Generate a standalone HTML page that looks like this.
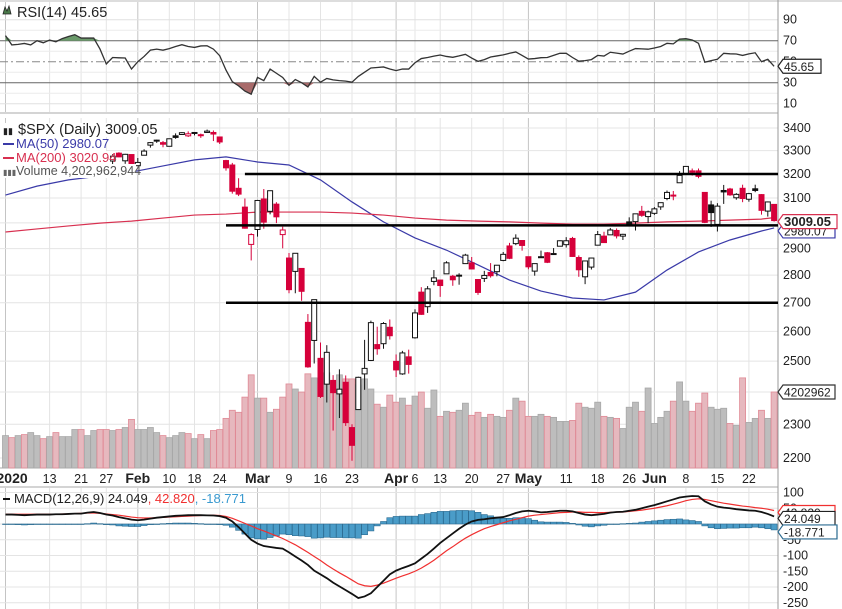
<!DOCTYPE html>
<html><head><meta charset="utf-8"><style>
html,body{margin:0;padding:0;background:#fff;}
svg{display:block;font-family:"Liberation Sans",sans-serif;}
</style></head><body>
<svg id="chart" width="842" height="609" viewBox="0 0 842 609" xmlns="http://www.w3.org/2000/svg">
<g id="grid"></g>
<g id="rsi"></g>
<g id="vol"></g>
<g id="ma"></g>
<g id="candles"></g>
<g id="lines"></g>
<g id="macd"></g>
<g id="axes"></g>
<g id="legend"></g>
</svg>
<script>
const opens=[3245,3226,3218,3241,3238,3266,3281,3271,3285,3283,3303,3324,3321,3330,3316,3333,3248,3255,3289,3256,3283,
3235,3280,3324,3344,3335,3319,3365,3371,3365,3378,3370,3380,3380,3360,3257,3238,3140,3063,2916,
2974,3096,3046,3075,2954,2864,2814,2825,2631,2569,2509,2425,2437,2394,2431,2290,2345,2458,2502,2555,2558,2614,
2499,2458,2514,2578,2738,2686,2777,2782,2805,2796,2799,2843,2846,2784,2788,2810,2813,2855,2910,2919,2931,
2869,2815,2869,2884,2879,2909,2915,2939,2866,2794,2830,2913,2948,2953,2970,2948,3004,3005,3046,3025,
3038,3064,3098,3111,3163,3199,3213,3213,3123,3072,2994,3131,3137,3101,3140,3095,3138,3114,3047,3074];
const highs=[3258,3246,3247,3245,3267,3276,3283,3288,3294,3298,3317,3330,3329,3337,3326,3334,3259,3285,3293,3286,3283,
3268,3306,3337,3348,3342,3353,3376,3381,3385,3381,3375,3393,3389,3361,3260,3247,3182,3098,2959,
3091,3137,3131,3083,2985,2883,2883,2825,2660,2711,2562,2553,2454,2473,2453,2300,2449,2571,2637,2616,2632,2641,
2522,2534,2538,2677,2756,2760,2819,2783,2852,2801,2807,2880,2868,2786,2816,2845,2837,2887,2922,2955,2931,
2869,2843,2892,2887,2902,2932,2944,2945,2874,2852,2865,2968,2965,2980,2978,2957,3022,3036,3068,3049,
3063,3081,3131,3129,3212,3233,3223,3223,3123,3089,3079,3154,3142,3120,3155,3121,3155,3116,3086,3074];
const lows=[3235,3222,3215,3233,3236,3263,3260,3268,3277,3280,3302,3318,3316,3320,3302,3281,3234,3242,3271,3243,3214,
3235,3280,3313,3334,3315,3318,3352,3369,3360,3367,3356,3378,3342,3329,3214,3118,3108,2977,2855,
2946,2977,3034,2999,2901,2734,2734,2707,2478,2492,2381,2367,2281,2319,2295,2192,2345,2407,2500,2521,2541,2572,
2448,2455,2459,2575,2657,2664,2763,2721,2806,2761,2765,2842,2821,2728,2775,2791,2796,2852,2860,2913,2892,
2822,2798,2866,2845,2876,2909,2904,2869,2794,2767,2821,2913,2922,2953,2939,2933,2988,2970,3024,2999,
3032,3052,3091,3091,3163,3197,3193,3182,2999,2984,2966,3076,3109,3093,3083,3085,3124,3033,3025,3005];
const closes=[3258,3235,3246,3237,3253,3275,3265,3288,3283,3289,3317,3330,3321,3322,3326,3295,3244,3276,3273,3284,3226,
3249,3298,3335,3346,3328,3352,3358,3379,3374,3380,3370,3386,3373,3338,3226,3128,3116,2979,2954,
3090,3003,3130,3024,2972,2747,2882,2741,2481,2711,2386,2529,2398,2409,2305,2237,2447,2476,2630,2541,2627,2585,
2471,2527,2489,2664,2659,2750,2790,2762,2846,2783,2800,2875,2823,2737,2799,2798,2837,2878,2863,2940,2912,
2831,2843,2868,2848,2881,2930,2930,2870,2820,2853,2864,2954,2923,2972,2949,2955,2992,3036,3030,3044,
3056,3081,3123,3112,3194,3232,3207,3190,3002,3041,3067,3125,3113,3115,3098,3118,3131,3050,3084,3009.05];
const volumes=[1792,1680,1792,1848,1960,1792,1624,1736,1960,1736,1736,2128,2128,1792,2072,2128,2128,2072,2128,2240,
2688,2128,2128,2240,1960,1792,1680,1792,1960,1904,1624,1848,1624,2072,2128,2744,3192,3080,3920,5152,
3864,3864,3080,3248,3920,4648,4368,4200,5208,4984,4648,5264,4760,5152,4928,4928,4592,4928,4368,3528,
3360,4032,3640,3864,3472,
3976,4200,3304,4312,2856,3136,3080,3192,3584,2912,3080,2800,2968,2856,2800,3192,3864,3696,2856,2856,
2968,2856,2800,2576,2576,2632,3584,3360,3304,3640,2856,2800,2744,2184,3360,3640,3136,4424,2464,2800,
3136,3696,4760,3696,3136,3584,4144,3360,3248,3304,2464,2352,4984,2520,2744,3192,2744,4203];
const ma50Idx=[0,5,10,15,20,25,30,35,40,45,50,55,60,65,70,75,80,85,90,95,100,105,110,115,120,122];
const ma50=[3112,3149,3175,3191,3208,3234,3260,3273,3251,3238,3175,3084,3004,2941,2894,2838,2782,2742,2717,2710,2738,2819,2887,2933,2968,2980.07];
const ma200=[2964,2976,2988,2999,3007,3019,3031,3035,3043,3043,3043,3039,3031,3019,3011,3007,3004,2999,2995,2995,2999,3004,3007,3011,3015,3020.94];
const rsi=[74.8,66,66.5,67.4,66,70,68,70.6,69,72,74,75.7,72.5,72.5,72.5,62,47.8,54,53.7,53.5,43,50,55,61,62,61,62.5,64.5,66.2,64.5,63.6,65,65.2,62,55.7,42,31,27,22,19,
35,32,43,39,35,27.5,33,30,26,36,30.5,34,32.7,32,31.5,30.5,36,40,44,44.5,45,43,41.5,43,43,49,53,54,55.3,56.4,55,54.2,55.5,57,53.5,50.3,52,54.5,55.5,56.5,
58,59.3,56,52.5,53,53.8,54,56,58,58,54,50.5,51,52,56,55.4,59,58.2,57.3,60,62.5,62.2,61.9,63,64.5,67.5,67,71.5,72,70.7,67.5,49.5,51,52.3,58,57.5,57.3,56,57.5,58.5,50,52.3,45.65];
const macdLine=[30,30,29,28,29,30,30,30,31,31,32,33,33,36,38,35,30,27,22,18,14,12,14,17,20,22,24,26,27,28,28,28,27.5,27,25,20,8,-10,-30,-50,
-62,-70,-73,-76,-78,-90,-103,-116,-130,-148,-160,-172,-186,-198,-210,-222,-235,-230,-220,-200,-180,-160,-148,-140,-133,-125,-110,-95,-78,-60,
-45,-30,-15,-2,8,13,15,18,20,22,28,35,40,42,40,37,38,40,42,42,40,35,30,28,30,32,36,38,39,42,45,50,55,60,66,72,78,84,87,89,88,72,62,55,52,50,47,45,43,42,38,32,24.049];
const signalLine=[31,31,31,31,31,31,31,31,31,32,32,33,34,35,35,34,32,30,28,25,22,20,19,19,20,21,22,23,24,25,26,27,28,28,27,24,18,10,2,-6,
-15,-22,-30,-38,-46,-56,-66,-78,-90,-103,-116,-130,-143,-155,-166,-178,-190,-196,-198,-194,-188,-180,-172,-165,-158,-150,-140,-128,-115,-100,
-85,-72,-58,-45,-34,-24,-15,-8,-2,4,10,15,20,25,28,30,32,34,36,37,38,38,37,37,36,36,37,38,38,40,42,44,47,50,54,58,63,68,74,78,80,78,74,70,66,63,60,57,55,52,50,47,42.82];
const priceTicks=[3400,3300,3200,3100,3000,2900,2800,2700,2600,2500,2400,2300,2200];
const rsiTicks=[90,70,50,30,10];
const macdTicks=[100,50,0,-50,-100,-150,-200,-250];
const supportLevels=[3200,2990,2700];
const supportStart=[38,35,35];
const dateLabels=['2020','13','21','27','Feb','10','18','24','Mar','9','16','23','Apr','6','13','20','27','May','11','18','26','Jun','8','15','22'];
const dateIdx=[0,7,12,16,21,26,30,34,40,45,50,55,62,65,69,74,79,83,89,94,99,103,108,113,118];

const NS='http://www.w3.org/2000/svg';
const R=778;
function X(i){return 5.5+6.3*i;}
function PY(p){return 128+758*Math.log(3400/p);}
function RY(v){return 61.7-(v-50)*1.05;}
function MY(v){return 524-0.315*v;}
function VY(v){return 468-v*76/4203;}
function mk(parent,tag,attrs,name){const e=document.createElementNS(NS,tag);for(const k in attrs)e.setAttribute(k,attrs[k]);


document.getElementById(parent).appendChild(e);return e;}
function txt(parent,x,y,s,attrs,name){const e=mk(parent,'text',Object.assign({x:x,y:y,'font-size':12.5,fill:'#222'},attrs||{}),name);e.textContent=s;return e;}

// grid
const months=['Feb','Mar','Apr','May','Jun','2020'];
dateIdx.forEach((d,k)=>{const x=X(d);const dark=months.includes(dateLabels[k]);
 [[2,112],[118,468],[488,609]].forEach(r=>mk('grid','line',{x1:x,x2:x,y1:r[0],y2:r[1],stroke:dark?'#c4c4c4':'#e4e4e4','stroke-width':1},'v-gridline'));});
priceTicks.forEach(p=>mk('grid','line',{x1:0,x2:R,y1:PY(p),y2:PY(p),stroke:'#e4e4e4'},'price-gridline'));
[80,60,40,20].forEach(v=>mk('grid','line',{x1:0,x2:R,y1:RY(v),y2:RY(v),stroke:'#ececec'},'rsi-gridline'));
[90,10].forEach(v=>mk('grid','line',{x1:0,x2:R,y1:RY(v),y2:RY(v),stroke:'#e0e0e0'},'rsi-gridline'));
macdTicks.forEach(v=>mk('grid','line',{x1:0,x2:R,y1:MY(v),y2:MY(v),stroke:'#e4e4e4'},'macd-gridline'));
mk('grid','line',{x1:0,x2:842,y1:1,y2:1,stroke:'#bbb'},'rsi-top-border');
mk('grid','line',{x1:0,x2:R,y1:113,y2:113,stroke:'#aaa'},'rsi-bottom-border');
mk('grid','line',{x1:0,x2:R,y1:468,y2:468,stroke:'#aaa'},'price-bottom-border');
mk('grid','line',{x1:0,x2:R,y1:487,y2:487,stroke:'#aaa'},'macd-top-border');
mk('grid','line',{x1:R,x2:R,y1:0,y2:609,stroke:'#999'},'right-border');

// RSI
mk('rsi','line',{x1:0,x2:R,y1:RY(70),y2:RY(70),stroke:'#666'},'rsi-70-line');
mk('rsi','line',{x1:0,x2:R,y1:RY(30),y2:RY(30),stroke:'#666'},'rsi-30-line');
mk('rsi','line',{x1:0,x2:R,y1:RY(50),y2:RY(50),stroke:'#888','stroke-dasharray':'8,3,2,3'},'rsi-50-line');
const rpts=rsi.map((v,i)=>[X(i),RY(v)]);
function fillZone(th,above,color,name){
 let d='';for(let i=0;i<rsi.length;i++){const v=rsi[i];const y=RY(above?Math.max(v,th):Math.min(v,th));d+=(i?'L':'M')+X(i)+','+y;}
 d+='L'+X(rsi.length-1)+','+RY(th)+'L'+X(0)+','+RY(th)+'Z';
 mk('rsi','path',{d:d,fill:color,stroke:'none'},name);}
fillZone(70,true,'#6a9a6a','rsi-overbought-fill');
fillZone(30,false,'#a86a6a','rsi-oversold-fill');
mk('rsi','polyline',{points:rpts.map(p=>p.join(',')).join(' '),fill:'none',stroke:'#333','stroke-width':1.3},'rsi-line');

// volume
volumes.forEach((v,i)=>{const down=i>0&&closes[i]<closes[i-1];
 mk('vol','rect',{x:X(i)-3,y:VY(v),width:6,height:468-VY(v),fill:down?'#e6b8be':'#bdbdbd',stroke:down?'#e08a96':'#a8a8a8','stroke-width':0.8},'volume-bar');});

// MAs
mk('ma','polyline',{points:ma50.map((v,k)=>X(ma50Idx[k])+','+PY(v)).join(' '),fill:'none',stroke:'#3a3aa8','stroke-width':1.2},'ma50-line');
mk('ma','polyline',{points:ma200.map((v,k)=>X(ma50Idx[k])+','+PY(v)).join(' '),fill:'none',stroke:'#d83050','stroke-width':1.2},'ma200-line');

// candles
closes.forEach((c,i)=>{const o=opens[i];const red=i>0&&c<closes[i-1];const col=red?'#d6003a':'#111';
 const x=X(i);
 mk('candles','line',{x1:x,x2:x,y1:PY(highs[i]),y2:PY(lows[i]),stroke:col,'stroke-width':1},'candle-wick');
 const top=PY(Math.max(o,c)),bot=PY(Math.min(o,c));
 mk('candles','rect',{x:x-2.5,y:top,width:5,height:Math.max(1,bot-top),fill:c>=o?'#fff':col,stroke:col,'stroke-width':1},'candle-body');});

// support lines
supportLevels.forEach((p,k)=>mk('lines','line',{x1:X(supportStart[k]),x2:R,y1:PY(p),y2:PY(p),stroke:'#000','stroke-width':2.5},'support-line'));

// MACD
macdLine.forEach((v,i)=>{const h=v-signalLine[i];const y0=MY(0),y1=MY(h);
 mk('macd','rect',{x:X(i)-3,y:Math.min(y0,y1),width:6,height:Math.max(0.5,Math.abs(y1-y0)),fill:'#4a9cc8',stroke:'#2a6a90','stroke-width':0.6},'macd-histogram-bar');});
mk('macd','polyline',{points:signalLine.map((v,i)=>X(i)+','+MY(v)).join(' '),fill:'none',stroke:'#f03030','stroke-width':1.2},'macd-signal-line');
mk('macd','polyline',{points:macdLine.map((v,i)=>X(i)+','+MY(v)).join(' '),fill:'none',stroke:'#111','stroke-width':1.8},'macd-line');

// axes labels
rsiTicks.forEach(v=>txt('axes',783,RY(v)+4,String(v),{},'rsi-tick-label'));
priceTicks.forEach(p=>txt('axes',783,PY(p)+4,String(p),{},'price-tick-label'));
macdTicks.forEach(v=>txt('axes',783,MY(v)+4,String(v),{},'macd-tick-label'));
dateLabels.forEach((s,k)=>{const bold=isNaN(+s)||s==='2020';
 txt('axes',X(dateIdx[k])+(k===0?-9:0),483,s,{'text-anchor':k===0?'start':'middle','font-weight':bold?'bold':'normal','font-size':bold?14:12.5},'date-label');});

// value tags
function tag(y,s,border,bold,name,w){
 mk('axes','path',{d:`M778,${y} L783,${y-7} L${783+w},${y-7} L${783+w},${y+7} L783,${y+7} Z`,fill:'#fff',stroke:border,'stroke-width':1.2},name+'-box');
 txt('axes',784,y+4.5,s,{'font-weight':bold?'bold':'normal','font-size':bold?13:12},name);}
tag(RY(45.65),'45.65','#222',false,'rsi-value-tag',38);
tag(PY(2980.07)+3,'2980.07','#3a3aa8',false,'ma50-value-tag',52);
tag(PY(3009.05)+1,'3009.05','#d83050',true,'price-value-tag',54);
tag(VY(4203),'4202962','#333',false,'volume-value-tag',52);
tag(MY(42.82)+2,'42.820','#f03030',false,'signal-value-tag',52);
tag(MY(24.049)+2,'24.049','#222',false,'macd-value-tag',52);
tag(MY(-18.771)+2,'-18.771','#2a6a90',false,'histogram-value-tag',54);

// legends
function legendRow(y,w){mk('legend','rect',{x:0,y:y-11,width:w,height:14,fill:'#fff'},'legend-bg');}
mk('legend','path',{d:'M3,14 L5,7 L7,11 L9,6 L11,14 Z',fill:'#4a7a4a',stroke:'#222','stroke-width':0.8},'rsi-legend-icon');
txt('legend',17,17,'RSI(14) 45.65',{'font-size':14.5},'rsi-legend');
legendRow(134,168);legendRow(148,106);legendRow(162,110);legendRow(175,136);
txt('legend',3,134,'▮▮',{'font-size':9,fill:'#222'},'price-legend-icon');
txt('legend',18,134,'$SPX (Daily) 3009.05',{'font-size':14.5},'price-legend');
mk('legend','line',{x1:3,x2:14,y1:144,y2:144,stroke:'#3a3aa8','stroke-width':2},'ma50-legend-swatch');
txt('legend',16,148,'MA(50) 2980.07',{'font-size':13,fill:'#3a3aa8'},'ma50-legend');
mk('legend','line',{x1:3,x2:14,y1:158,y2:158,stroke:'#d83050','stroke-width':2},'ma200-legend-swatch');
txt('legend',16,162,'MA(200) 3020.94',{'font-size':13,fill:'#d83050'},'ma200-legend');
txt('legend',3,175,'▮▮▮',{'font-size':8,fill:'#666'},'volume-legend-icon');
txt('legend',16,175,'Volume 4,202,962,944',{'font-size':12.5,fill:'#555'},'volume-legend');
mk('legend','line',{x1:3,x2:10,y1:499,y2:499,stroke:'#111','stroke-width':2},'macd-legend-swatch');
const mt=txt('legend',14,503,'MACD(12,26,9) 24.049',{'font-size':13},'macd-legend');
const t2=mk('legend','tspan',{fill:'#f03030'},'macd-legend-signal');t2.textContent=', 42.820';mt.appendChild(t2);
const t3=mk('legend','tspan',{fill:'#3a9ad0'},'macd-legend-histogram');t3.textContent=', -18.771';mt.appendChild(t3);
</script>
</body></html>
